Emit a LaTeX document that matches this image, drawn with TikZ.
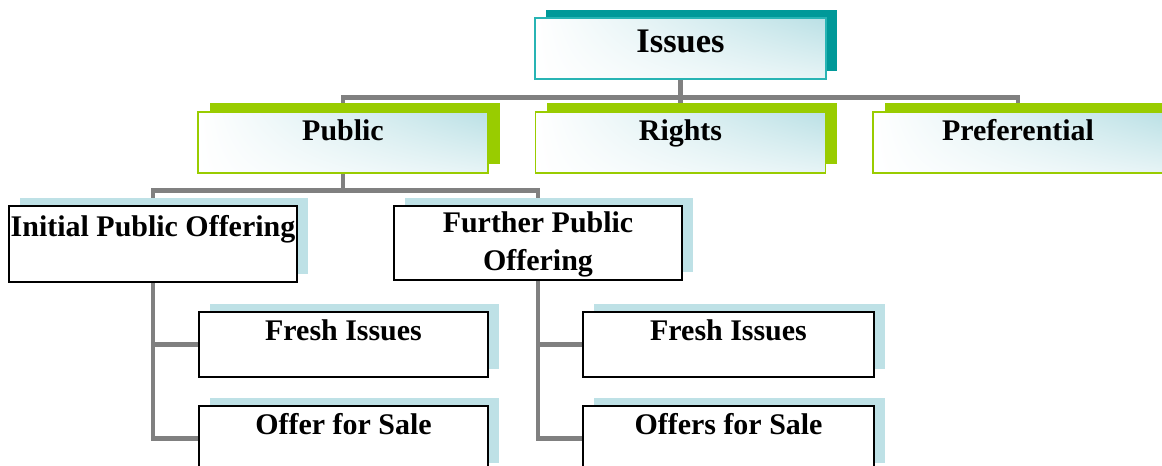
\documentclass[tikz,border=0pt]{standalone}
\usepackage{fontspec}
\setmainfont{Liberation Serif}
\usetikzlibrary{shadows,shadings,backgrounds}
\definecolor{tealshade}{RGB}{0,153,153}
\definecolor{tealline}{RGB}{40,180,180}
\definecolor{limeshade}{RGB}{153,204,0}
\definecolor{paleblue}{RGB}{190,225,230}
\definecolor{glow}{RGB}{186,224,229}
\definecolor{linkgray}{RGB}{128,128,128}
\begin{document}
\begin{tikzpicture}[x=0.025cm,y=-0.025cm,
  box/.style={rectangle,inner xsep=0pt,inner ysep=0pt,align=center,
    font=\fontsize{21.3}{27}\selectfont\bfseries},
  glowfill/.style={upper left=white,lower left=white,upper right=glow,lower right=white!65!glow},
  rootbox/.style={box,glowfill,draw=tealline,line width=1pt,
    general shadow={fill=tealshade,shadow xshift=0.28cm,shadow yshift=0.21cm},
    font=\fontsize{24.5}{29}\selectfont\bfseries},
  kindbox/.style={box,glowfill,draw=limeshade,line width=1pt,
    general shadow={fill=limeshade,shadow xshift=0.29cm,shadow yshift=0.22cm},
    minimum width=7.25cm,text height=0.72cm,text depth=0.805cm},
  leafbox/.style={box,draw=black,line width=0.9pt,fill=white,
    general shadow={fill=paleblue,shadow xshift=0.27cm,shadow yshift=0.2cm}},
  link/.style={draw=linkgray,line width=3.5pt}]
\useasboundingbox (0,0) rectangle (1162,466);
%
\node[rootbox,minimum width=7.275cm,text height=0.85cm,text depth=0.675cm] (issues) at (680.5,48.5) {Issues};
%
\node[kindbox] (public) at (343,142.5) {Public};
\node[kindbox] (rights) at (680.5,142.5) {Rights};
\node[kindbox] (pref) at (1018,142.5) {Preferential};
%
\node[leafbox,minimum width=7.2cm,text height=0.77cm,text depth=1.13cm] (ipo) at (153,244) {Initial Public Offering};
\node[leafbox,minimum width=7.2cm,text height=1.6cm,text depth=0.25cm] (fpo) at (538,243) {Further Public\\Offering};
%
\node[leafbox,minimum width=7.225cm,text height=0.7cm,text depth=0.925cm] (fresh1) at (343.5,344.5) {Fresh Issues};
\node[leafbox,minimum width=7.225cm,text height=0.7cm,text depth=0.925cm] (offer1) at (343.5,438.5) {Offer for Sale};
\node[leafbox,minimum width=7.275cm,text height=0.7cm,text depth=0.925cm] (fresh2) at (728.5,344.5) {Fresh Issues};
\node[leafbox,minimum width=7.275cm,text height=0.7cm,text depth=0.925cm] (offer2) at (728.5,438.5) {Offers for Sale};
%
\begin{scope}[on background layer]
\draw[link] (issues.south) -- ++(0,18) coordinate (bus0) -- (rights.north);
\draw[link] (bus0) -| (public.north);
\draw[link] (bus0) -| (pref.north);
\draw[link] (public.south) -- ++(0,17) coordinate (bus1);
\draw[link] (bus1) -| (ipo.north);
\draw[link] (bus1) -| (fpo.north);
\draw[link] (ipo.south) |- (fresh1.west);
\draw[link] (ipo.south) |- (offer1.west);
\draw[link] (fpo.south) |- (fresh2.west);
\draw[link] (fpo.south) |- (offer2.west);
\end{scope}
\end{tikzpicture}
\end{document}
